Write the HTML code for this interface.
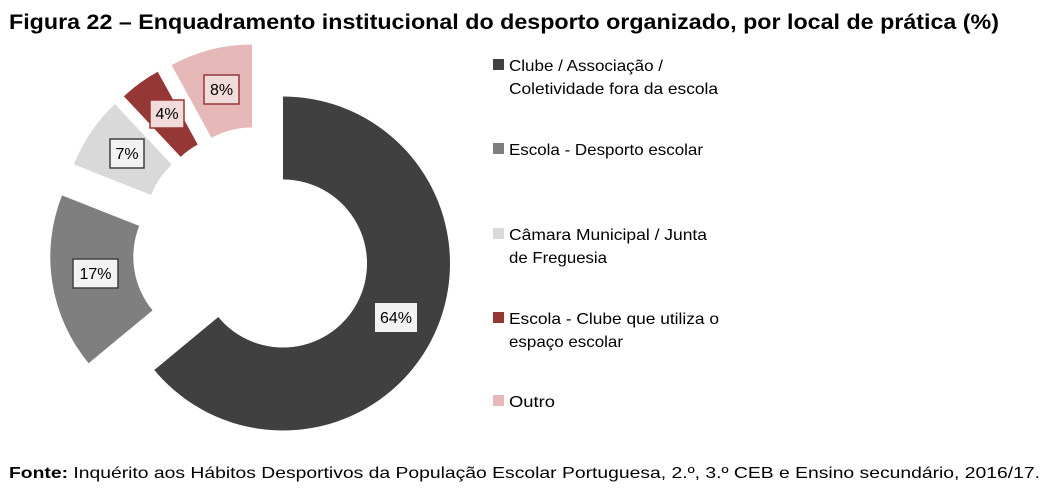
<!DOCTYPE html>
<html><head><meta charset="utf-8"><style>
body{margin:0;background:#fff;width:1049px;height:493px;overflow:hidden;font-family:"Liberation Sans",sans-serif}
</style></head><body>
<svg id="s" width="1049" height="493" xmlns="http://www.w3.org/2000/svg" font-family="Liberation Sans, sans-serif">
<text x="9" y="29" font-size="21" font-weight="bold" fill="#000" textLength="990" lengthAdjust="spacingAndGlyphs">Figura 22 – Enquadramento institucional do desporto organizado, por local de prática (%)</text>
<g id="segs"></g>
<g font-size="16" fill="#000" text-anchor="middle">
<rect x="375" y="303" width="42" height="29" fill="#f2f2f2"/><text x="396" y="323">64%</text>
<rect x="73" y="259" width="45" height="29" fill="#f2f2f2" stroke="#404040" stroke-width="1.5"/><text x="95.5" y="279">17%</text>
<rect x="110" y="139" width="34" height="29" fill="#f2f2f2" stroke="#404040" stroke-width="1.5"/><text x="127" y="159">7%</text>
<rect x="150" y="100" width="34" height="28" fill="#f2dcdb" stroke="#953735" stroke-width="1.5"/><text x="167" y="119">4%</text>
<rect x="204" y="75" width="35" height="29" fill="#f2dcdb" stroke="#953735" stroke-width="1.5"/><text x="221.5" y="95">8%</text>
</g>
<g font-size="16" fill="#000" lengthAdjust="spacingAndGlyphs">
<rect x="493" y="59" width="11" height="11" fill="#404040"/>
<text x="509" y="71" textLength="154" lengthAdjust="spacingAndGlyphs">Clube / Associação /</text><text x="509" y="94" textLength="209" lengthAdjust="spacingAndGlyphs">Coletividade fora da escola</text>
<rect x="493" y="143" width="11" height="11" fill="#7f7f7f"/>
<text x="509" y="155" textLength="194" lengthAdjust="spacingAndGlyphs">Escola - Desporto escolar</text>
<rect x="493" y="228" width="11" height="11" fill="#d9d9d9"/>
<text x="509" y="240" textLength="198" lengthAdjust="spacingAndGlyphs">Câmara Municipal / Junta</text><text x="509" y="263" textLength="98" lengthAdjust="spacingAndGlyphs">de Freguesia</text>
<rect x="493" y="312" width="11" height="11" fill="#953735"/>
<text x="509" y="324" textLength="210" lengthAdjust="spacingAndGlyphs">Escola -  Clube que utiliza o</text><text x="509" y="347" textLength="114" lengthAdjust="spacingAndGlyphs">espaço escolar</text>
<rect x="493" y="395" width="11" height="11" fill="#e6b9b8"/>
<text x="509" y="407" textLength="46" lengthAdjust="spacingAndGlyphs">Outro</text>
</g>
<text x="9" y="478" font-size="16" fill="#000" textLength="1031" lengthAdjust="spacingAndGlyphs"><tspan font-weight="bold">Fonte:</tspan> Inquérito aos Hábitos Desportivos da População Escolar Portuguesa, 2.º, 3.º CEB e Ensino secundário, 2016/17.</text>
</svg>
<script>
var R=167,r=84;
var segs=[[283,263.5,0,230.4,"#404040"],[217.3,256.8,230.4,291.6,"#7f7f7f"],[229.2,225.9,291.6,316.8,"#d9d9d9"],[238.2,218.1,316.8,331.2,"#953735"],[252,211.5,331.2,360,"#e6b9b8"]];
function pt(cx,cy,rad,a){a=a*Math.PI/180;return (cx+rad*Math.sin(a)).toFixed(2)+","+(cy-rad*Math.cos(a)).toFixed(2);}
var g=document.getElementById("segs"),h="";
segs.forEach(function(s){var cx=s[0],cy=s[1],a0=s[2],a1=s[3],big=(a1-a0)>180?1:0;
h+='<path fill="'+s[4]+'" d="M'+pt(cx,cy,R,a0)+' A'+R+','+R+' 0 '+big+' 1 '+pt(cx,cy,R,a1)+' L'+pt(cx,cy,r,a1)+' A'+r+','+r+' 0 '+big+' 0 '+pt(cx,cy,r,a0)+' Z"/>';});
g.innerHTML=h;
</script>
</body></html>
